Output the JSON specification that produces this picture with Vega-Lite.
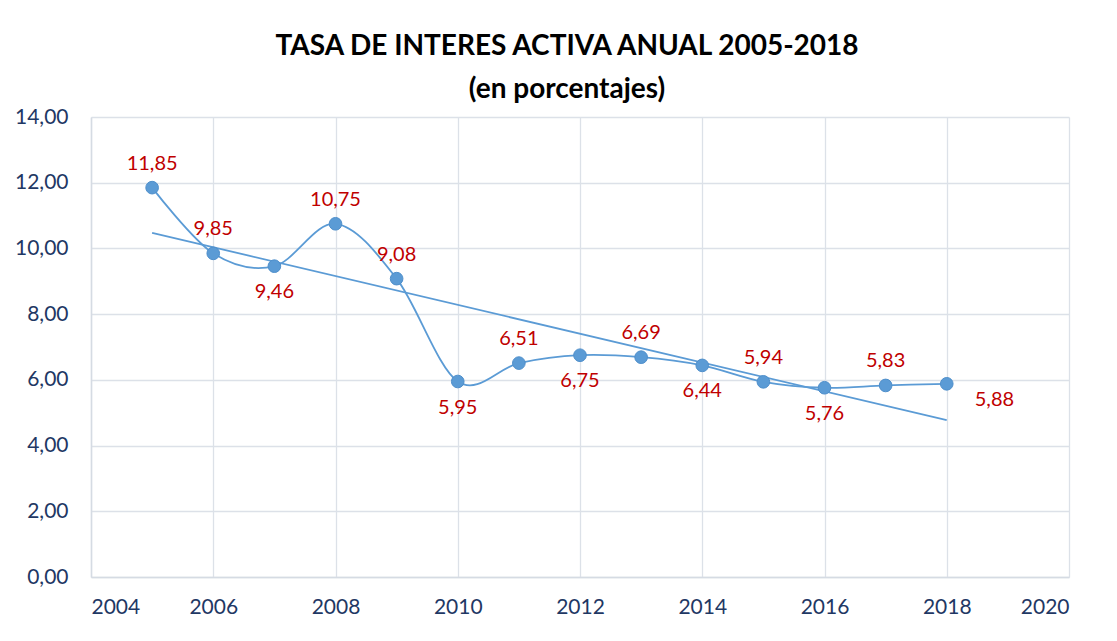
{
  "$schema": "https://vega.github.io/schema/vega-lite/v6.json",
  "width": 978,
  "height": 460,
  "autosize": {"type": "none"},
  "padding": {"left": 91, "top": 117, "right": 48, "bottom": 64},
  "background": "white",
  "config": {
    "locale": {"number": {"decimal": ",", "thousands": ".", "grouping": [3], "currency": ["", ""]}},
    "font": "Lato",
    "view": {"stroke": null}
  },
  "title": {
    "text": ["TASA DE INTERES ACTIVA ANUAL 2005-2018", "(en porcentajes)"],
    "font": "Lato",
    "fontSize": 28,
    "fontWeight": "bold",
    "color": "#000000",
    "lineHeight": 43,
    "anchor": "middle",
    "frame": "group",
    "dx": -13,
    "offset": 2
  },
  "data": {
    "values": [
      {"year": 2005, "rate": 11.85},
      {"year": 2006, "rate": 9.85},
      {"year": 2007, "rate": 9.46},
      {"year": 2008, "rate": 10.75},
      {"year": 2009, "rate": 9.08},
      {"year": 2010, "rate": 5.95},
      {"year": 2011, "rate": 6.51},
      {"year": 2012, "rate": 6.75},
      {"year": 2013, "rate": 6.69},
      {"year": 2014, "rate": 6.44},
      {"year": 2015, "rate": 5.94},
      {"year": 2016, "rate": 5.76},
      {"year": 2017, "rate": 5.83},
      {"year": 2018, "rate": 5.88}
    ]
  },
  "encoding": {
    "x": {
      "field": "year",
      "type": "quantitative",
      "scale": {"domain": [2004, 2020], "nice": false, "zero": false},
      "axis": {
        "title": null,
        "values": [2004, 2006, 2008, 2010, 2012, 2014, 2016, 2018, 2020],
        "format": "d",
        "labelFont": "Lato",
        "labelFontSize": 21,
        "labelColor": "#1F3864",
        "labelPadding": 19,
        "ticks": false,
        "domainColor": "#D5DBE3",
        "domainWidth": 1.5,
        "gridColor": "#DCE1E8",
        "gridWidth": 1.3
      }
    },
    "y": {
      "field": "rate",
      "type": "quantitative",
      "scale": {"domain": [0, 14], "nice": false},
      "axis": {
        "title": null,
        "values": [0, 2, 4, 6, 8, 10, 12, 14],
        "format": ".2f",
        "labelFont": "Lato",
        "labelFontSize": 21,
        "labelColor": "#1F3864",
        "labelPadding": 23,
        "ticks": false,
        "domainColor": "#D5DBE3",
        "domainWidth": 1.5,
        "gridColor": "#DCE1E8",
        "gridWidth": 1.3
      }
    }
  },
  "layer": [
    {
      "mark": {"type": "line", "interpolate": "cardinal", "tension": 0, "color": "#5B9BD5", "strokeWidth": 1.8}
    },
    {
      "transform": [{"regression": "rate", "on": "year"}],
      "mark": {"type": "line", "color": "#5B9BD5", "strokeWidth": 1.8}
    },
    {
      "mark": {"type": "point", "filled": true, "shape": "circle", "size": 160, "color": "#5B9BD5", "opacity": 1, "stroke": "#4F8FCB", "strokeWidth": 1}
    },
    {
      "transform": [{"filter": {"field": "year", "oneOf": [2005, 2006, 2008, 2009, 2011, 2013, 2015, 2017]}}],
      "mark": {"type": "text", "dy": -24, "baseline": "middle", "align": "center", "font": "Lato", "fontSize": 20, "color": "#C00000"},
      "encoding": {"text": {"field": "rate", "type": "quantitative", "format": ".2f"}}
    },
    {
      "transform": [{"filter": {"field": "year", "oneOf": [2007, 2010, 2012, 2014, 2016]}}],
      "mark": {"type": "text", "dy": 26, "baseline": "middle", "align": "center", "font": "Lato", "fontSize": 20, "color": "#C00000"},
      "encoding": {"text": {"field": "rate", "type": "quantitative", "format": ".2f"}}
    },
    {
      "transform": [{"filter": {"field": "year", "oneOf": [2018]}}],
      "mark": {"type": "text", "dx": 28, "dy": 16, "baseline": "middle", "align": "left", "font": "Lato", "fontSize": 20, "color": "#C00000"},
      "encoding": {"text": {"field": "rate", "type": "quantitative", "format": ".2f"}}
    }
  ]
}
